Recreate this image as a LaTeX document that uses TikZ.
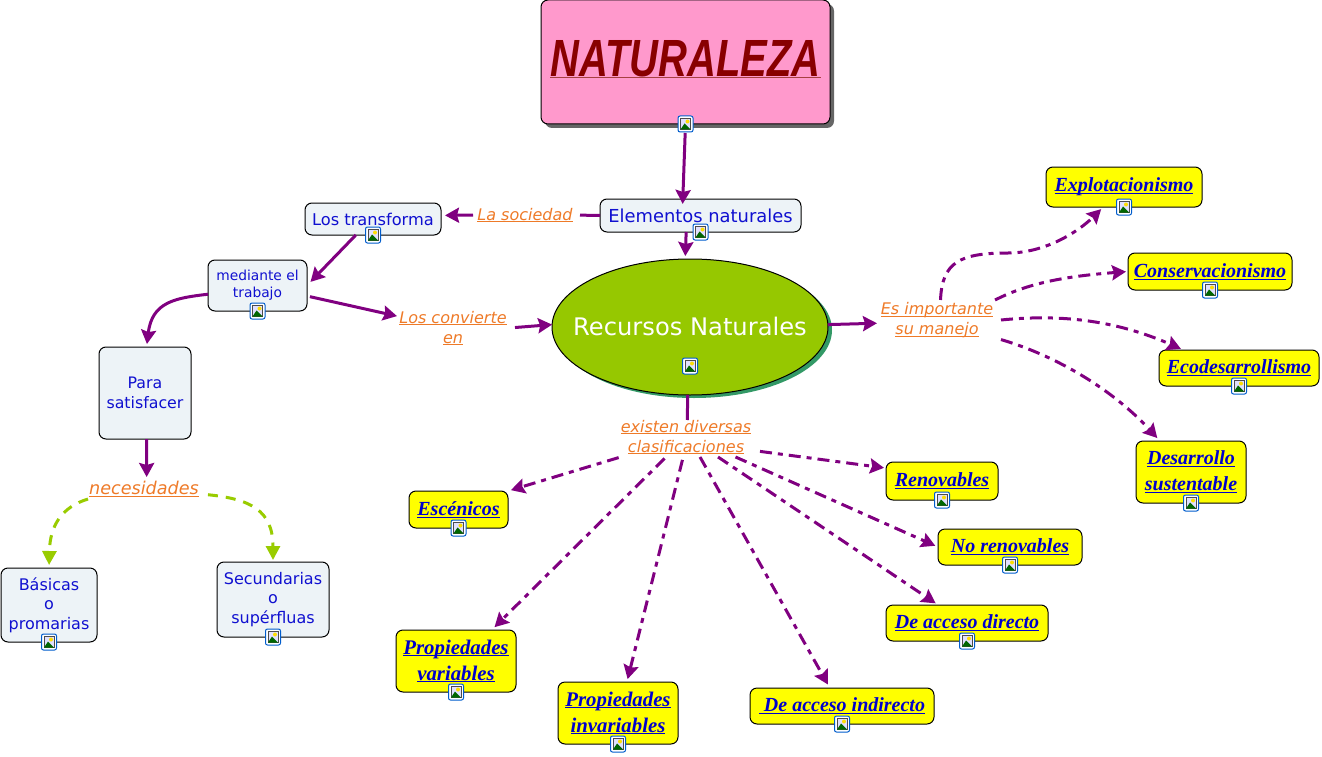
\documentclass[tikz,border=0pt]{standalone}
\usepackage{fontspec}
\usepackage{graphicx}
\setmainfont{DejaVu Sans}
\newfontfamily\scrfont{Liberation Serif}
\newfontfamily\brushfont{Liberation Sans}
\usetikzlibrary{arrows.meta,shapes.geometric,shadows}
\definecolor{pur}{HTML}{800080}
\definecolor{limeg}{HTML}{99CC00}
\definecolor{ellg}{HTML}{96C800}
\definecolor{lbl}{HTML}{EE7A28}
\definecolor{bluetxt}{HTML}{1010D0}
\definecolor{pale}{HTML}{EDF3F7}
\definecolor{pinkbox}{HTML}{FF99CC}
\definecolor{yelb}{HTML}{FFFF00}
\definecolor{darkred}{HTML}{880000}
\newcommand{\ulx}[1]{\underline{\smash{#1}}\vphantom{#1}}
\tikzset{
  x=1pt,y=-1pt,
  anybox/.style={draw=black,line width=1pt,rounded corners=7pt,inner sep=0pt,outer sep=0pt,align=center},
  bluebox/.style={anybox,fill=pale,text=bluetxt},
  yelbox/.style={anybox,fill=yelb,text=blue!80!black,font=\scrfont\bfseries\itshape\fontsize{20}{26}\selectfont},
  propbox/.style={yelbox,font=\scrfont\bfseries\itshape\fontsize{20.8}{26}\selectfont},
  lab/.style={inner sep=0pt,outer sep=0pt,text=lbl,align=center,font=\itshape\fontsize{16}{20}\selectfont},
  arr/.style={draw=pur,line width=3pt,-{Stealth[length=14pt,width=15pt,inset=2pt]}},
  plain/.style={draw=pur,line width=3pt},
  dd/.style={arr,dash pattern=on 12pt off 6pt on 5pt off 6pt},
  gd/.style={draw=limeg,line width=3pt,-{Stealth[length=14pt,width=14pt,inset=0pt]},dash pattern=on 10pt off 8pt},
  icon/.pic={
    \draw[draw=blue!55!cyan!80!black,line width=1pt,fill=white,rounded corners=2pt] (-7.5,-8)rectangle(7.5,8);
    \fill[blue!12] (-5,-5.5) rectangle (5,5.5);
    \draw[black!70,line width=.5pt] (-5,-5.5) rectangle (5,5.5);
    \fill[yellow!80!orange] (2,-2.5) circle (2);
    \fill[green!40!black] (-5,5.5) -- (-1,-0.5) -- (5,5.5) -- cycle;
  }
}
\begin{document}
\begin{tikzpicture}
\useasboundingbox (0,0) rectangle (1322,757);
% ---- nodes
\node[anybox,fill=pinkbox,minimum width=289pt,minimum height=124pt,
  drop shadow={shadow xshift=4pt,shadow yshift=-4pt,fill=black!60,opacity=1}] (title) at (685.5,62) {};
\node[inner sep=0pt,outer sep=0pt,text=darkred] (titletxt) at (685.5,59) {\resizebox{270pt}{36pt}{\brushfont\bfseries\itshape NATURALEZA}};
\draw[draw=darkred!75,line width=1pt] (titletxt.south west) -- (titletxt.south east);
\node[bluebox,minimum width=201pt,minimum height=33pt,font=\fontsize{17.9}{22}\selectfont] (elem) at (700.5,215.5) {Elementos naturales};
\node[bluebox,minimum width=136pt,minimum height=32pt,font=\fontsize{16.2}{20}\selectfont] (trans) at (373,219) {Los transforma};
\node[bluebox,minimum width=99pt,minimum height=51pt,font=\fontsize{13.8}{17}\selectfont] (med) at (257.5,285.5) {mediante el\\trabajo};
\node[bluebox,minimum width=92pt,minimum height=92pt,font=\fontsize{15.8}{19.5}\selectfont] (para) at (145,393) {Para\\satisfacer};
\node[bluebox,minimum width=96pt,minimum height=74pt,font=\fontsize{16}{19.5}\selectfont] (bas) at (49,605) {Básicas\\o\\promarias};
\node[bluebox,minimum width=112pt,minimum height=75pt,font=\fontsize{16}{19.5}\selectfont] (sec) at (273,599.5) {Secundarias\\o\\supérfluas};
\fill[fill={rgb,255:red,51;green,153;blue,102}] (694,330) ellipse [x radius=138,y radius=68];
\node[ellipse,draw=black,line width=1pt,fill=ellg,minimum width=276pt,minimum height=136pt,inner sep=0pt,outer sep=0pt] (ell) at (690,327) {};
\node[text=white,inner sep=0pt,font=\fontsize{24.2}{28}\selectfont] (elltxt) at (690,326) {Recursos Naturales};

\node[yelbox,minimum width=156pt,minimum height=40pt] (expl) at (1124,187) {\ulx{Explotacionismo}};
\node[yelbox,minimum width=164pt,minimum height=37pt] (cons) at (1210,271.5) {\ulx{Conservacionismo}};
\node[yelbox,minimum width=160pt,minimum height=36pt] (eco) at (1239,368) {\ulx{Ecodesarrollismo}};
\node[yelbox,minimum width=110pt,minimum height=62pt] (des) at (1191,472) {\ulx{Desarrollo}\\\ulx{sustentable}};
\node[yelbox,minimum width=112pt,minimum height=38pt] (ren) at (942,481) {\ulx{Renovables}};
\node[yelbox,minimum width=144pt,minimum height=36pt] (nor) at (1010,547) {\ulx{No renovables}};
\node[yelbox,minimum width=162pt,minimum height=36pt] (dir) at (967,623) {\ulx{De acceso directo}};
\node[yelbox,minimum width=184pt,minimum height=36pt] (ind) at (842,706) {\ulx{ De acceso indirecto}};
\node[propbox,minimum width=120pt,minimum height=62pt] (inv) at (618,713) {\ulx{Propiedades}\\\ulx{invariables}};
\node[propbox,minimum width=120pt,minimum height=62pt] (var) at (456,661) {\ulx{Propiedades}\\\ulx{variables}};
\node[yelbox,minimum width=99pt,minimum height=37pt] (esc) at (458.5,509.5) {\ulx{Escénicos}};

\node[lab,minimum width=96pt,minimum height=20pt] (soc) at (525,215) {\ulx{La sociedad}};
\node[lab,minimum width=112pt,minimum height=38pt] (con) at (453,328) {\ulx{Los convierte}\\\ulx{en}};
\node[lab,minimum width=128pt,minimum height=40pt] (imp) at (937,320) {\ulx{Es importante}\\\ulx{su manejo}};
\node[lab,minimum width=148pt,minimum height=40pt] (exi) at (686,437) {\ulx{existen diversas}\\\ulx{clasificaciones}};
\node[lab,minimum width=112pt,minimum height=20pt,font=\itshape\fontsize{17.6}{20}\selectfont] (nec) at (144,489) {\ulx{necesidades}};

% ---- connectors
\draw[arr,shorten <=9pt,shorten >=-5pt] (title.south) -- (elem.137);
\draw[plain,shorten >=7pt] (elem.west) -- (soc.east);
\draw[arr,shorten <=4pt,shorten >=4pt] (soc.west) -- (trans.3);
\draw[arr,shorten >=3pt] (elem.229) -- (ell.94);
\draw[arr,shorten >=5pt] (trans.223) -- (med.east);
\draw[arr,shorten <=3pt] (med.-12) -- (con.168);
\draw[arr,shorten <=6pt] (con.east) -- (ell.179);
\draw[arr,shorten >=3pt] (med.190) .. controls (175,298) and (152,302) .. (para.88);
\draw[arr,shorten >=2pt] (para.-88) -- (nec.75);
\draw[gd,shorten >=3pt] (nec.south west) .. controls (62,507) and (50,525) .. (bas.north);
\draw[gd,shorten <=8pt,shorten >=2pt] (nec.-5) .. controls (250,499) and (273,510) .. (sec.north);
\draw[arr,shorten >=-4pt] (ell.1.5) -- (imp.183);
\draw[plain,shorten >=-3pt] (ell.268) -- (exi.86);
\draw[dd,shorten >=3pt] (imp.80) .. controls (942,262) and (960,253) .. (1008,253) .. controls (1045,253) and (1078,232) .. (expl.224);
\draw[dd,shorten >=2pt] (imp.19) .. controls (1030,282) and (1070,276) .. (cons.west);
\draw[dd,shorten >=3pt] (imp.east) .. controls (1060,314) and (1115,320) .. (eco.162);
\draw[dd,shorten >=4pt] (imp.-17) .. controls (1060,357) and (1115,392) .. (des.135);
\draw[dd,shorten >=2pt] (exi.-11) -- (ren.167);
\draw[dd,shorten >=3pt] (exi.-22) -- (nor.west);
\draw[dd,shorten >=3pt] (exi.-32) -- (dir.148);
\draw[dd,shorten >=4pt] (exi.-55) -- (ind.124);
\draw[dd,shorten <=3pt,shorten >=3pt] (exi.-98) -- (inv.74);
\draw[dd,shorten <=2pt,shorten >=4pt] (exi.-135) -- (var.41);
\draw[dd,shorten <=2pt,shorten >=3pt] (exi.197) -- (esc.north east);
% ---- icons
\foreach \n in {title,elem,trans,med,bas,sec,expl,cons,eco,des,ren,nor,dir,ind,inv,var,esc}
  \pic at (\n.south) {icon};
\pic at (690,366) {icon};
\end{tikzpicture}
\end{document}
